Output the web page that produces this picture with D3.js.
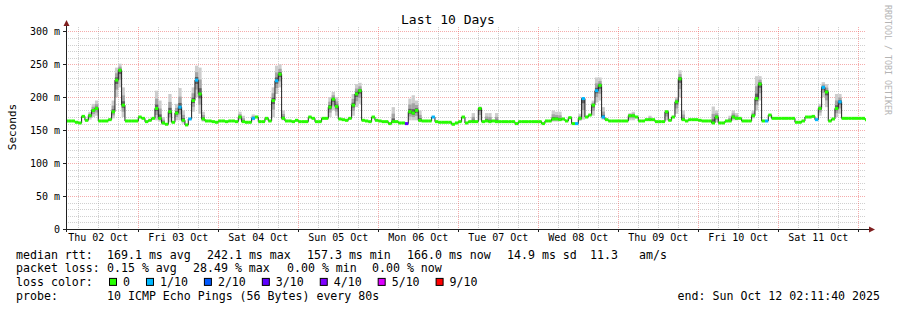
<!DOCTYPE html>
<html>
<head>
<meta charset="utf-8">
<script src="https://cdn.jsdelivr.net/npm/d3@7"></script>
<style>
  body { margin: 0; background: #fff; }
  text { font-family: "DejaVu Sans Mono", monospace; fill: #000; }
</style>
</head>
<body>
<div id="chart"></div>
<script>
// hourly median rtt (ms), first value = Thu 02 Oct 02:00 UTC
const startHour = Date.UTC(2025, 9, 2, 2);
const median = [
  164,164,164,162,161,171,165,172,180,183,
  164,164,164,166,178,226,241,188,164,164,
  164,164,170,168,163,165,168,183,168,161,
  159,178,162,176,185,165,158,167,195,226,
  205,167,164,164,163,162,164,164,163,164,
  164,163,170,163,162,162,168,170,163,163,
  168,164,195,225,235,168,164,164,163,165,
  163,163,163,170,168,163,163,168,168,185,
  197,186,167,166,165,168,188,205,210,165,
  164,163,170,165,164,163,163,160,163,163,
  161,161,160,178,176,180,165,164,164,164,
  170,163,162,162,162,162,159,161,163,170,
  161,163,163,163,183,163,164,163,164,163,
  163,163,163,163,163,160,163,163,163,163,
  163,163,163,160,164,164,167,167,166,167,
  164,169,160,160,168,198,170,173,188,210,
  218,170,166,164,164,164,164,164,164,172,
  172,170,164,164,166,166,166,163,163,163,
  178,165,170,193,228,166,164,166,166,166,
  165,164,164,164,161,170,161,161,164,164,
  170,168,168,164,164,164,172,198,220,164,
  164,173,168,168,168,168,168,168,168,162,
  162,164,170,170,171,166,183,215,208,164,
  167,183,193,168,168,168,168,168,168,168,
  166
];

// hours with packet loss: [hour index, loss colour index]
const lossHours = [
  [34,1],[37,1],[39,1],[56,1],[63,1],[102,3],[110,1],
  [153,1],[155,1],[159,1],[161,1],[210,1],[225,1],[227,1],[232,1]
];

// smoke spread: [hour index, lowest ping, highest ping] (ms)
const smoke = [
  [7,166,178],[8,170,190],[9,172,195],
  [14,168,195],[15,200,245],[16,215,251],[17,170,215],
  [27,165,210],[28,163,195],[29,158,170],[31,162,205],[33,165,190],[34,165,214],
  [35,160,180],[38,178,215],[39,200,248],[40,175,245],[41,163,178],
  [52,165,178],[53,162,172],[56,165,174],
  [62,170,215],[63,205,248],[64,215,250],[65,165,180],
  [79,170,200],[80,180,208],[81,172,200],[86,172,205],[87,185,220],[88,190,222],
  [98,162,185],[103,165,198],[104,165,203],[105,165,195],[106,162,180],
  [122,163,176],[124,165,186],[126,163,176],[127,163,176],[129,163,176],
  [146,163,180],[147,163,178],[148,164,178],[154,164,175],[155,166,200],
  [158,172,195],[159,192,230],[160,195,230],[161,166,185],
  [169,165,176],[170,165,178],[175,164,172],
  [180,165,180],[183,175,200],[184,200,241],[185,164,180],
  [194,160,186],[195,162,180],[199,164,172],[200,165,180],[201,165,176],
  [206,168,180],[207,180,232],[208,195,232],
  [226,172,190],[227,200,223],[228,185,220],[231,170,205],[232,175,205]
];

const lossColors = ["#26ff00","#00b8ff","#0059ff","#5e00ff","#7e00ff","#dd00ff","#ff0000"];
const lossLabels = ["0","1/10","2/10","3/10","4/10","5/10","9/10"];

const rttStats = [
  ["median rtt:", 16], ["169.1 ms avg", 107], ["242.1 ms max", 207], ["157.3 ms min", 307],
  ["166.0 ms now", 407], ["14.9 ms sd", 507], ["11.3", 590], ["am/s", 639]
];
const lossStats = [
  ["packet loss:", 16], ["0.15 % avg", 107], ["28.49 % max", 193], ["0.00 % min", 287], ["0.00 % now", 372]
];

const W = 897, H = 310;
const HOUR = 3600e3;
const tStart = Date.UTC(2025, 9, 2, 2, 11, 40);
const tEnd = Date.UTC(2025, 9, 12, 2, 11, 40);

const svg = d3.select("#chart").append("svg")
    .attr("width", W)
    .attr("height", H);

svg.append("rect").attr("width", W).attr("height", H).attr("fill", "#fff");

const x = d3.scaleUtc().domain([tStart, tEnd]).range([65.6, 865.6]);
const y = d3.scaleLinear().domain([0, 300]).range([229, 31.4]);
const plotTop = 27, plotBottom = 229, plotLeft = 66, plotRight = 866;
const px = v => Math.round(v) + 0.5;

//grid
const gridG = svg.append("g").attr("shape-rendering", "crispEdges");
const minorX = d3.utcHour.every(6).range(new Date(tStart), new Date(tEnd)).filter(d => d.getUTCHours() !== 0);
const majorX = d3.utcDay.range(new Date(tStart), new Date(tEnd));
const minorColor = "rgba(150,150,150,0.45)", majorColor = "rgba(235,90,90,0.5)";

gridG.selectAll(".vminor").data(minorX).enter().append("line")
    .attr("x1", d => px(x(d))).attr("x2", d => px(x(d)))
    .attr("y1", plotTop).attr("y2", plotBottom)
    .attr("stroke", minorColor).attr("stroke-dasharray", "1,1");

const yMinor = d3.range(10, 301, 10).filter(v => v % 50 !== 0);
gridG.selectAll(".hminor").data(yMinor).enter().append("line")
    .attr("x1", plotLeft).attr("x2", plotRight)
    .attr("y1", d => px(y(d))).attr("y2", d => px(y(d)))
    .attr("stroke", minorColor).attr("stroke-dasharray", "1,1");

gridG.selectAll(".vmajor").data(majorX).enter().append("line")
    .attr("x1", d => px(x(d))).attr("x2", d => px(x(d)))
    .attr("y1", plotTop).attr("y2", plotBottom)
    .attr("stroke", majorColor).attr("stroke-dasharray", "1,1");

const yMajor = d3.range(50, 301, 50);
gridG.selectAll(".hmajor").data(yMajor).enter().append("line")
    .attr("x1", plotLeft).attr("x2", plotRight)
    .attr("y1", d => px(y(d))).attr("y2", d => px(y(d)))
    .attr("stroke", majorColor).attr("stroke-dasharray", "1,1");

// data
svg.append("clipPath").attr("id", "plotclip")
  .append("rect").attr("x", plotLeft + 1).attr("y", plotTop)
  .attr("width", plotRight - plotLeft - 1).attr("height", plotBottom - plotTop);

const dataG = svg.append("g").attr("clip-path", "url(#plotclip)");
const hourT = h => startHour + h * HOUR;

// smoke, light outer to dark inner
const smokeLayers = [
  {c: "#cdcdcd", f: 1.0},
  {c: "#a4a4a4", f: 0.55},
  {c: "#606060", f: 0.22}
];
smokeLayers.forEach(layer => {
  dataG.selectAll(null).data(smoke).enter().append("rect")
    .attr("x", d => x(hourT(d[0])))
    .attr("width", d => x(hourT(d[0] + 1)) - x(hourT(d[0])))
    .attr("y", d => {
      const m = median[d[0]];
      return y(m + (d[2] - m) * layer.f);
    })
    .attr("height", d => {
      const m = median[d[0]];
      return y(m - (m - d[1]) * layer.f) - y(m + (d[2] - m) * layer.f);
    })
    .attr("fill", layer.c);
});

// thin median line
const pts = median.map((m, i) => [hourT(i), m]);
pts.push([hourT(median.length), median[median.length - 1]]);
dataG.append("path")
    .datum(pts)
    .attr("fill", "none")
    .attr("stroke", "#202020")
    .attr("stroke-width", 1)
    .attr("d", d3.line().curve(d3.curveStepAfter).x(d => x(d[0])).y(d => y(d[1])));

// thick loss coloured median
const lossMap = new Map(lossHours);
dataG.selectAll(".seg").data(median).enter().append("line")
    .attr("x1", (d, i) => x(hourT(i)))
    .attr("x2", (d, i) => x(hourT(i + 1)))
    .attr("y1", d => y(d)).attr("y2", d => y(d))
    .attr("stroke", (d, i) => lossColors[lossMap.get(i) || 0])
    .attr("stroke-width", 3);

// axes
const axisColor = "#202020", arrowColor = "#7f1f1f";
svg.append("line").attr("x1", 66.5).attr("x2", 66.5).attr("y1", 232).attr("y2", 25)
    .attr("stroke", axisColor);
svg.append("line").attr("x1", 63).attr("x2", 869).attr("y1", 229.5).attr("y2", 229.5)
    .attr("stroke", axisColor);
svg.append("path").attr("d", "M63.5,26L69.5,26L66.5,20Z").attr("fill", arrowColor);
svg.append("path").attr("d", "M869,226.5L869,232.5L875,229.5Z").attr("fill", arrowColor);

svg.selectAll(".ytick").data([0].concat(yMajor)).enter().append("line")
    .attr("x1", 63).attr("x2", 66)
    .attr("y1", d => px(y(d))).attr("y2", d => px(y(d)))
    .attr("stroke", axisColor);
svg.selectAll(".xtick").data(majorX).enter().append("line")
    .attr("x1", d => px(x(d))).attr("x2", d => px(x(d)))
    .attr("y1", 229).attr("y2", 232)
    .attr("stroke", axisColor);

svg.selectAll(".ylab").data([0].concat(yMajor)).enter().append("text")
    .attr("x", 60).attr("y", d => y(d) + 3.5)
    .attr("text-anchor", "end")
    .style("font-size", "10px")
    .text(d => d === 0 ? "0" : d + " m");

const fmtDay = d3.utcFormat("%a %d %b");
const dayNoons = d3.utcDay.range(new Date(Date.UTC(2025, 9, 2)), new Date(tEnd))
    .map(d => new Date(+d + 12 * HOUR))
    .filter(d => +d < tEnd);
svg.selectAll(".xlab").data(dayNoons).enter().append("text")
    .attr("x", d => x(d)).attr("y", 240.5)
    .attr("text-anchor", "middle")
    .style("font-size", "10px")
    .text(d => fmtDay(new Date(+d - 12 * HOUR)));

// titles
svg.append("text").attr("x", 448).attr("y", 24)
    .attr("text-anchor", "middle").style("font-size", "13px")
    .text("Last 10 Days");

svg.append("text")
    .attr("transform", "translate(15.5,127) rotate(-90)")
    .attr("text-anchor", "middle").style("font-size", "11px")
    .text("Seconds");

svg.append("text")
    .attr("transform", "translate(885,5) rotate(90)")
    .style("font-size", "8.3px").style("fill", "#b4b4b4")
    .text("RRDTOOL / TOBI OETIKER");

// legend
const legendG = svg.append("g").style("font-size", "11.6px");
const rowY = [258.5, 272.2, 285.9, 299.6];

legendG.selectAll(".r1").data(rttStats).enter().append("text")
    .attr("x", d => d[1]).attr("y", rowY[0]).text(d => d[0]);
legendG.selectAll(".r2").data(lossStats).enter().append("text")
    .attr("x", d => d[1]).attr("y", rowY[1]).text(d => d[0]);

legendG.append("text").attr("x", 16).attr("y", rowY[2]).text("loss color:");
let lx = 109;
lossLabels.forEach((lab, i) => {
  legendG.append("rect")
      .attr("x", lx + 0.5).attr("y", rowY[2] - 7.5)
      .attr("width", 7).attr("height", 7)
      .attr("fill", lossColors[i]).attr("stroke", "#000");
  const t = legendG.append("text").attr("x", lx + 14).attr("y", rowY[2]).text(lab);
  lx = lx + 14 + t.node().getComputedTextLength() + 16;
});

legendG.append("text").attr("x", 16).attr("y", rowY[3]).text("probe:");
legendG.append("text").attr("x", 107).attr("y", rowY[3]).text("10 ICMP Echo Pings (56 Bytes) every 80s");
legendG.append("text").attr("x", 880).attr("y", rowY[3]).attr("text-anchor", "end")
    .text("end: Sun Oct 12 02:11:40 2025");
</script>
</body>
</html>
